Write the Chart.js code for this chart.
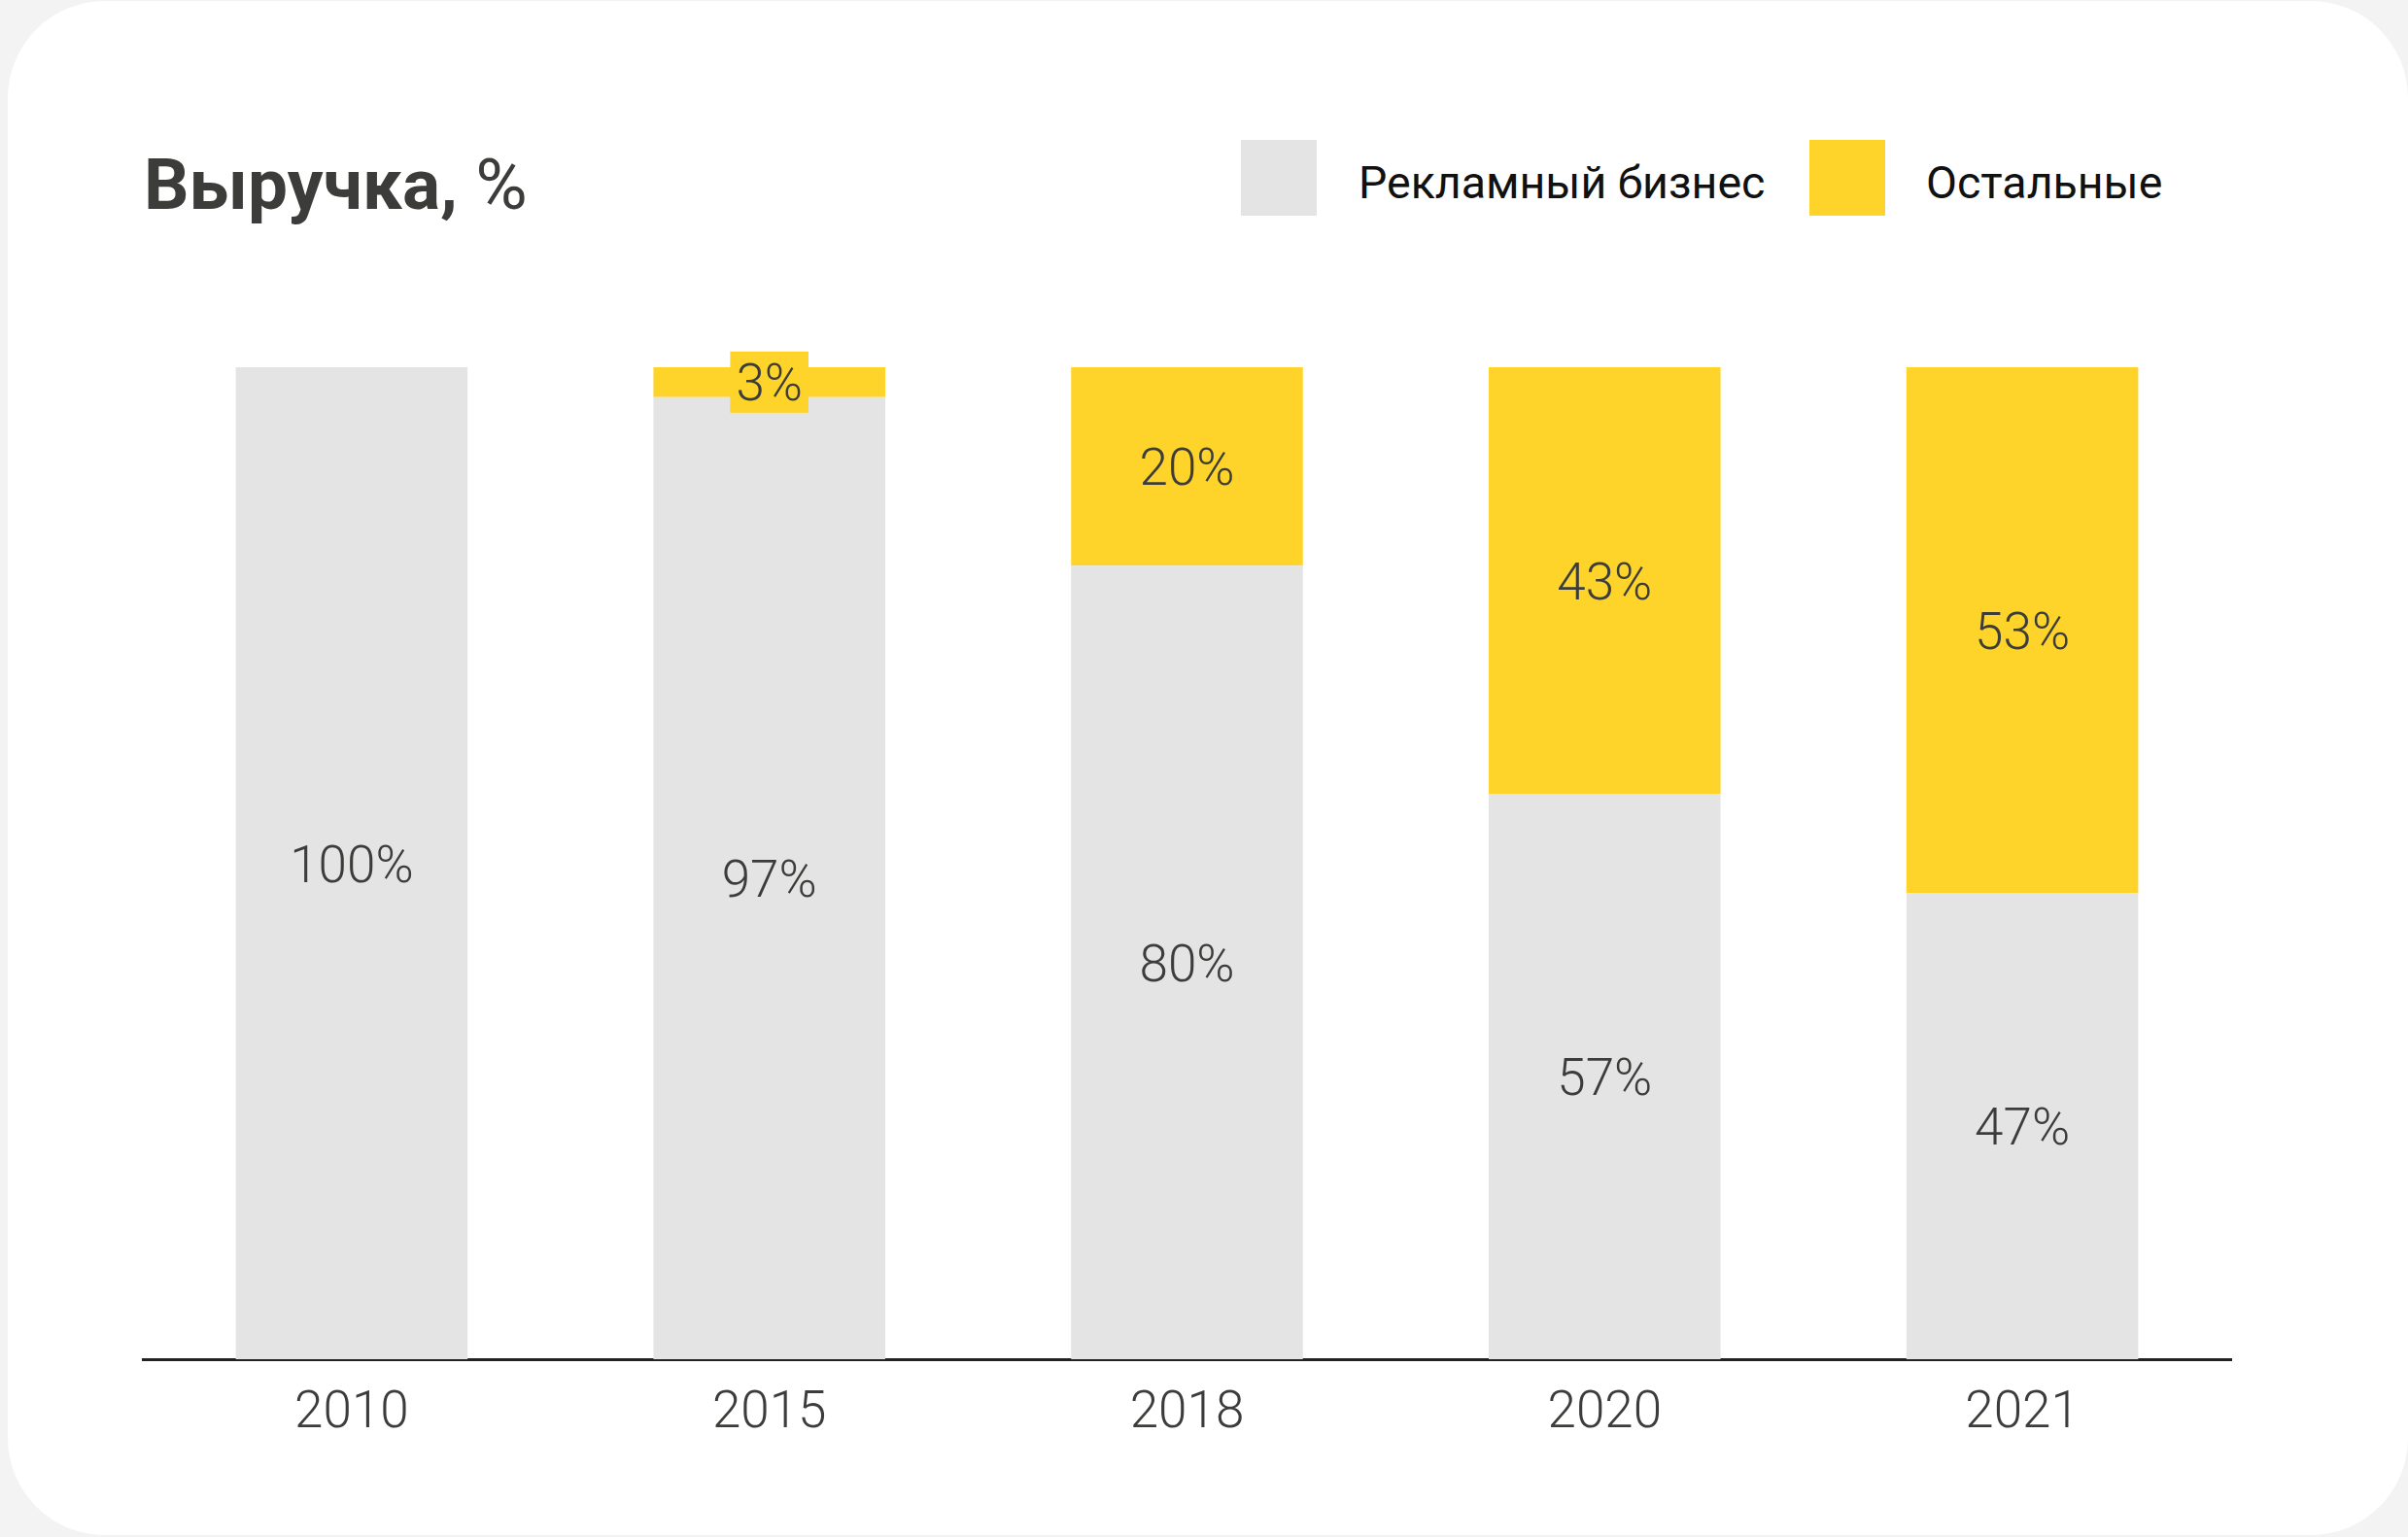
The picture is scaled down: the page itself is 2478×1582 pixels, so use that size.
<!DOCTYPE html>
<html>
<head>
<meta charset="utf-8">
<script src="https://cdn.jsdelivr.net/npm/chart.js@4.4.1/dist/chart.umd.min.js"></script>
<style>
  html, body { margin: 0; padding: 0; width: 2478px; height: 1582px; background: #f3f3f3; overflow: hidden; }
  #card { position: absolute; left: 8px; top: 1px; width: 2470px; height: 1579px; background: #fff; border-radius: 100px; }
  #wrap { position: absolute; left: 0; top: 0; width: 2478px; height: 1582px; }
  .title { position: absolute; left: 148px; top: 154px; font-family: Roboto, sans-serif; font-weight: 700; font-size: 73px; line-height: 73px; color: #3c3c3a; white-space: nowrap; }
  .title span { font-weight: 400; }
  .leg-box { position: absolute; top: 144px; width: 78px; height: 78px; }
  .leg-text { position: absolute; top: 165px; font-family: Roboto, sans-serif; font-weight: 400; font-size: 46.5px; line-height: 46.5px; color: #111; white-space: nowrap; }
</style>
</head>
<body>
<div id="card"></div>
<div class="title">Выручка, <span>%</span></div>
<div class="leg-box" style="left:1277px;background:#e4e4e4"></div>
<div class="leg-text" style="left:1398px">Рекламный бизнес</div>
<div class="leg-box" style="left:1862px;background:#fed42a"></div>
<div class="leg-text" style="left:1982px">Остальные</div>
<div id="wrap"><canvas id="c"></canvas></div>
<script>
const categories = ['2010', '2015', '2018', '2020', '2021'];
const adBusiness = [100, 97, 80, 57, 47];
const others = [0, 3, 20, 43, 53];
const seriesNames = ['Рекламный бизнес', 'Остальные'];
const seriesColors = ['#e4e4e4', '#fed42a'];

const labelPlugin = {
  id: 'segLabels',
  afterDatasetsDraw(chart) {
    const ctx = chart.ctx;
    ctx.save();
    ctx.font = '300 53px Roboto, sans-serif';
    ctx.textAlign = 'center';
    ctx.textBaseline = 'alphabetic';
    chart.data.datasets.forEach((ds, di) => {
      const meta = chart.getDatasetMeta(di);
      meta.data.forEach((bar, i) => {
        const v = ds.data[i];
        if (!v) return;
        const top = Math.min(bar.y, bar.base);
        const bot = Math.max(bar.y, bar.base);
        const cy = (top + bot) / 2;
        const txt = v + '%';
        if (bot - top < 60) {
          const w = ctx.measureText(txt).width + 12;
          ctx.fillStyle = ds.backgroundColor;
          ctx.fillRect(bar.x - w / 2, cy - 31.5, w, 63);
        }
        ctx.fillStyle = '#3c3c3a';
        ctx.fillText(txt, bar.x, cy + 19);
      });
    });
    ctx.restore();
  }
};

new Chart(document.getElementById('c'), {
  type: 'bar',
  data: {
    labels: categories,
    datasets: [
      { label: seriesNames[0], data: adBusiness, backgroundColor: seriesColors[0], borderWidth: 0 },
      { label: seriesNames[1], data: others, backgroundColor: seriesColors[1], borderWidth: 0 }
    ]
  },
  options: {
    responsive: true,
    maintainAspectRatio: false,
    animation: false,
    events: [],
    layout: { padding: { left: 147, right: 182, top: 378, bottom: 83 } },
    datasets: { bar: { categoryPercentage: 1.0, barPercentage: 0.555 } },
    plugins: { legend: { display: false }, title: { display: false }, tooltip: { enabled: false } },
    scales: {
      x: {
        stacked: true,
        grid: { display: false, drawTicks: false },
        border: { display: true, color: '#222', width: 3 },
        ticks: { color: '#3c3c3a', font: { family: 'Roboto, sans-serif', size: 53, weight: '300' }, padding: 25 },
        afterFit(scale) { scale.height = 100; }
      },
      y: {
        stacked: true, display: false, min: 0, max: 100
      }
    }
  },
  plugins: [labelPlugin]
});
</script>
</body>
</html>
